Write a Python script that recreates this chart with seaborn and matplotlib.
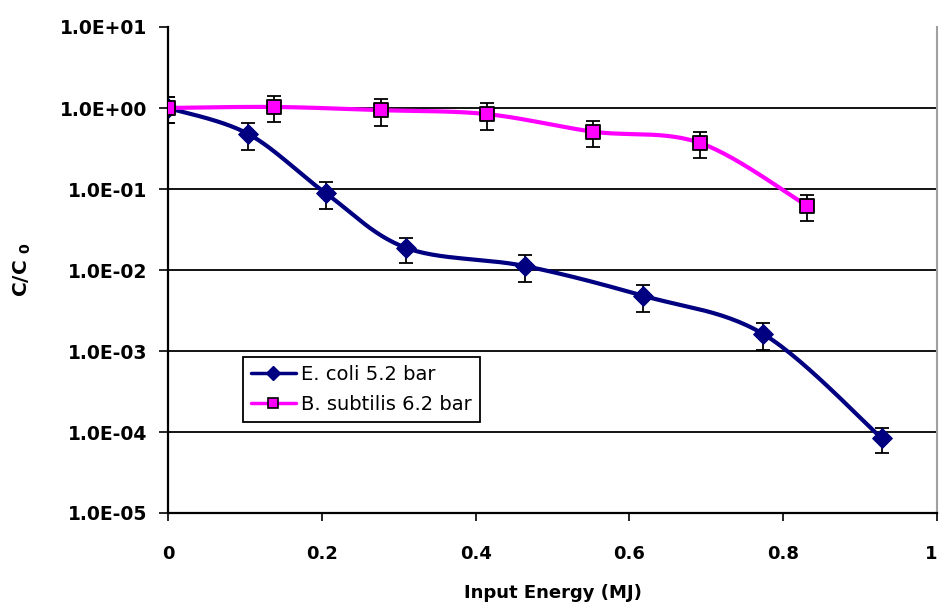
import numpy as np
import pandas as pd
import matplotlib
matplotlib.use("Agg")
import matplotlib.pyplot as plt
from matplotlib.lines import Line2D
from matplotlib.ticker import FixedLocator, NullLocator, FixedFormatter
import seaborn as sns

# Inactivation data: survival ratio C/C0 versus input energy
ecoli_energy = [0.0, 0.104, 0.205, 0.31, 0.464, 0.618, 0.774, 0.928]
ecoli_ratio = [1.0, 0.48, 0.089, 0.0187, 0.0112, 0.0048, 0.00162, 0.000084]
ecoli_err = [0.35, 0.18, 0.032, 0.0064, 0.0041, 0.0018, 0.0006, 0.000029]

bsub_energy = [0.0, 0.138, 0.277, 0.415, 0.553, 0.692, 0.831]
bsub_ratio = [1.0, 1.03, 0.94, 0.84, 0.51, 0.37, 0.062]
bsub_err = [0.35, 0.36, 0.34, 0.30, 0.18, 0.13, 0.022]

series_names = ["E. coli 5.2 bar", "B. subtilis 6.2 bar"]
series_colors = ["#000080", "#FF00FF"]

x_ticks = [0, 0.2, 0.4, 0.6, 0.8, 1.0]
x_tick_labels = ["0", "0.2", "0.4", "0.6", "0.8", "1"]
y_ticks = [1e-5, 1e-4, 1e-3, 1e-2, 1e-1, 1e0, 1e1]
y_tick_labels = ["1.0E-05", "1.0E-04", "1.0E-03", "1.0E-02", "1.0E-01", "1.0E+00", "1.0E+01"]


def smooth_curve(xs, ys, n=30):
    """Catmull-Rom style smoothing in (x, log10 y) space, like a spreadsheet smoothed line."""
    px = np.asarray(xs, float)
    py = np.log10(np.asarray(ys, float))
    m = len(px)
    out_x, out_y = [], []
    t = np.linspace(0, 1, n)
    for i in range(m - 1):
        i0, i1, i2, i3 = max(i - 1, 0), i, i + 1, min(i + 2, m - 1)
        p0 = np.array([px[i1], py[i1]])
        p3 = np.array([px[i2], py[i2]])
        c1 = p0 + (np.array([px[i2], py[i2]]) - np.array([px[i0], py[i0]])) / 6
        c2 = p3 - (np.array([px[i3], py[i3]]) - np.array([px[i1], py[i1]])) / 6
        b = ((1 - t) ** 3)[:, None] * p0 + (3 * (1 - t) ** 2 * t)[:, None] * c1 \
            + (3 * (1 - t) * t ** 2)[:, None] * c2 + (t ** 3)[:, None] * p3
        if i > 0:
            b = b[1:]
        out_x.extend(b[:, 0])
        out_y.extend(b[:, 1])
    return np.array(out_x), 10 ** np.array(out_y)


sns.set_style("white")
plt.rcParams["font.family"] = ["DejaVu Sans"]
plt.rcParams["text.color"] = "black"
plt.rcParams["axes.labelcolor"] = "black"
plt.rcParams["xtick.color"] = "black"
plt.rcParams["ytick.color"] = "black"

fig = plt.figure(figsize=(9.4, 6.08), dpi=100)
ax = fig.add_axes([168 / 940, 1 - 513 / 608, (937 - 168) / 940, (513 - 27) / 608])
ax.set_yscale("log")
ax.set_xlim(0, 1)
ax.set_ylim(1e-5, 1e1)

# horizontal gridlines at the interior decades
for yv in y_ticks[1:-1]:
    ax.axhline(yv, color="black", lw=1.3, zorder=1)

datasets = [
    (ecoli_energy, ecoli_ratio, ecoli_err, "D", 10.0, series_colors[0], series_colors[0], 2),
    (bsub_energy, bsub_ratio, bsub_err, "s", 10.6, series_colors[1], "black", 6),
]

for name, (xs, ys, es, mk, ms, col, edge, z) in zip(series_names, datasets):
    sx, sy = smooth_curve(xs, ys)
    curve = pd.DataFrame({"energy": sx, "ratio": sy})
    sns.lineplot(data=curve, x="energy", y="ratio", color=col, lw=3.0,
                 sort=False, estimator=None, ax=ax, zorder=z, legend=False)
    ax.errorbar(xs, ys, yerr=es, fmt="none", ecolor="black", elinewidth=1.3,
                capsize=5, capthick=1.3, zorder=z + 1)
    pts = pd.DataFrame({"energy": xs, "ratio": ys})
    sns.scatterplot(data=pts, x="energy", y="ratio", marker=mk, s=ms ** 2,
                    color=col, edgecolor=edge, linewidth=1.3 if edge == "black" else 0.8,
                    ax=ax, zorder=z + 2, legend=False)

# axes styling
ax.xaxis.set_major_locator(FixedLocator(x_ticks))
ax.xaxis.set_major_formatter(FixedFormatter(x_tick_labels))
ax.yaxis.set_major_locator(FixedLocator(y_ticks))
ax.yaxis.set_major_formatter(FixedFormatter(y_tick_labels))
ax.yaxis.set_minor_locator(NullLocator())
ax.xaxis.set_minor_locator(NullLocator())

ax.tick_params(axis="y", which="major", direction="out", length=6.5, width=1.2,
               color="black", pad=8.5, labelsize=13.5, left=True, labelcolor="black")
ax.tick_params(axis="x", which="major", direction="out", length=6, width=1.2,
               color="black", pad=17, labelsize=13, bottom=True, labelcolor="black")
for lab in ax.get_xticklabels() + ax.get_yticklabels():
    lab.set_fontweight("bold")
ax.get_xticklabels()[-1].set_horizontalalignment("right")

for side in ["left", "bottom"]:
    ax.spines[side].set_color("black")
    ax.spines[side].set_linewidth(1.6)
ax.spines["top"].set_visible(False)
ax.spines["right"].set_color("#a0a0a0")
ax.spines["right"].set_linewidth(1.5)

ax.set_xlabel("Input Energy (MJ)", fontsize=13, fontweight="bold", color="black")
ax.set_ylabel(r"$\mathbf{C/C\ }_\mathbf{0}$", fontsize=14.5, color="black")
ax.xaxis.set_label_coords(0.5, -0.146)
ax.yaxis.set_label_coords(-0.176, 0.5)

handles = [
    Line2D([], [], color=series_colors[0], lw=2.5, marker="D", markersize=7,
           markerfacecolor=series_colors[0], markeredgecolor=series_colors[0]),
    Line2D([], [], color=series_colors[1], lw=2.5, marker="s", markersize=7,
           markerfacecolor=series_colors[1], markeredgecolor="black", markeredgewidth=1.2),
]
leg = ax.legend(handles, series_names, loc="lower left",
                bbox_to_anchor=((243 - 168) / 769, (513 - 422) / 486),
                borderaxespad=0, frameon=True, fancybox=False, framealpha=1,
                edgecolor="black", fontsize=14, handlelength=2.3,
                handletextpad=0.3, labelspacing=0.6, borderpad=0.4)
leg.get_frame().set_linewidth(1.3)
leg.set_zorder(10)
for t in leg.get_texts():
    t.set_color("black")

fig.savefig("out.png", dpi=100)
